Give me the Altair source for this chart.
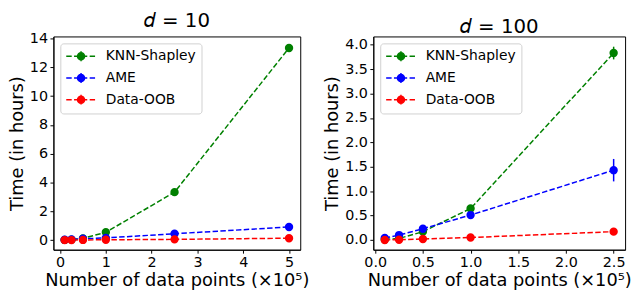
import altair as alt
import pandas as pd

methods = ["KNN-Shapley", "AME", "Data-OOB"]
colors = ["#008000", "#0000ff", "#ff0000"]

# d = 10 panel
x10 = [0.1, 0.25, 0.5, 1.0, 2.5, 5.0]
knn10 = [0.01, 0.03, 0.12, 0.54, 3.33, 13.35]
knn10_err = [0.005, 0.01, 0.02, 0.04, 0.08, 0.1]
ame10 = [0.02, 0.05, 0.09, 0.15, 0.44, 0.91]
ame10_err = [0.005, 0.01, 0.01, 0.02, 0.05, 0.15]
oob10 = [0.0, 0.0, 0.01, 0.02, 0.05, 0.13]
oob10_err = [0.002, 0.002, 0.003, 0.005, 0.01, 0.02]

# d = 100 panel
x100 = [0.1, 0.25, 0.5, 1.0, 2.5]
knn100 = [0.01, 0.03, 0.17, 0.645, 3.83]
knn100_err = [0.005, 0.01, 0.02, 0.04, 0.13]
ame100 = [0.04, 0.1, 0.23, 0.51, 1.43]
ame100_err = [0.01, 0.02, 0.03, 0.03, 0.23]
oob100 = [0.0, 0.005, 0.02, 0.05, 0.17]
oob100_err = [0.002, 0.003, 0.005, 0.01, 0.02]

xticks10 = [0, 1, 2, 3, 4, 5]
yticks10 = [0, 2, 4, 6, 8, 10, 12, 14]
xticks100 = [0.0, 0.5, 1.0, 1.5, 2.0, 2.5]
yticks100 = [0.0, 0.5, 1.0, 1.5, 2.0, 2.5, 3.0, 3.5, 4.0]

FONT = "DejaVu Sans"
# legend glyph: dashed line, marker and error bar (units of 7px)
SYMBOL = ("M-1,0H-0.21M0.13,0H0.91M1.26,0H2.04M2.39,0H3.17"
          "M0.63,0A0.51,0.51,0,1,1,1.65,0A0.51,0.51,0,1,1,0.63,0Z"
          "M1.14,-0.72V0.72")


def frame(xs, series):
    rows = []
    for m, (ys, es) in zip(methods, series):
        for x, y, e in zip(xs, ys, es):
            rows.append({"x": x, "y": y, "lo": y - e, "hi": y + e, "method": m})
    return pd.DataFrame(rows)


def panel(df, title, xdom, ydom, xt, yt, xfmt, yfmt, w, h):
    sc = alt.Scale(domain=methods, range=colors)
    leg = alt.Legend(title=None, symbolType=SYMBOL)
    xenc = alt.X("x:Q", scale=alt.Scale(domain=xdom, nice=False, zero=False),
                 axis=alt.Axis(values=xt, tickCount=len(xt), format=xfmt,
                               labelOverlap=False,
                               title="Number of data points (×10⁵)"))
    yenc = alt.Y("y:Q", scale=alt.Scale(domain=ydom, nice=False, zero=False),
                 axis=alt.Axis(values=yt, tickCount=len(yt), format=yfmt,
                               labelOverlap=False, title="Time (in hours)"))
    base = alt.Chart(df)
    line = base.mark_line(strokeDash=[5.5, 2.4], strokeWidth=1.5, clip=True).encode(
        x=xenc, y=yenc,
        stroke=alt.Stroke("method:N", scale=sc, legend=leg),
        order=alt.Order("x:Q"),
    )
    err = base.mark_rule(strokeWidth=1.5).encode(
        x="x:Q", y="lo:Q", y2="hi:Q",
        stroke=alt.Stroke("method:N", scale=sc, legend=leg),
    )
    pts = base.mark_point(filled=True, size=42, opacity=1).encode(
        x="x:Q", y="y:Q",
        fill=alt.Fill("method:N", scale=sc, legend=leg),
        stroke=alt.Stroke("method:N", scale=sc, legend=leg),
    )
    return alt.layer(line, err, pts).properties(
        width=w, height=h,
        title=alt.TitleParams(title, fontSize=20, font=FONT, fontWeight="normal",
                              offset=0, anchor="middle", frame="group",
                              color="black"),
    )


left = panel(frame(x10, [(knn10, knn10_err), (ame10, ame10_err), (oob10, oob10_err)]),
             "𝑑 = 10", [-0.145, 5.245], [-0.67, 14.15], xticks10, yticks10, "d", "d", 250, 216)
right = panel(frame(x100, [(knn100, knn100_err), (ame100, ame100_err), (oob100, oob100_err)]),
              "𝑑 = 100", [-0.02, 2.62], [-0.2, 4.17], xticks100, yticks100, ".1f", ".1f", 255, 216)

chart = alt.hconcat(left, right, spacing=74, bounds="flush").resolve_scale(
    fill="independent", stroke="independent"
).resolve_legend(fill="independent", stroke="independent").properties(
    padding={"left": 0, "top": 0, "right": 0, "bottom": 0}
).configure_view(stroke="black", strokeWidth=1).configure_axis(
    labelFont=FONT, titleFont=FONT, labelFontSize=14.5, titleFontSize=18,
    labelColor="black", titleColor="black", titleFontWeight="normal",
    domainColor="black", tickColor="black", tickSize=3.5, tickWidth=1,
    grid=False, labelPadding=2.5, titlePadding=3,
).configure_legend(
    orient="top-left", offset=7, padding=5, labelFont=FONT, labelFontSize=14,
    labelColor="black", strokeColor="#d0d0d0", fillColor="white", cornerRadius=3,
    symbolSize=196, symbolStrokeWidth=1.5, labelOffset=25, rowPadding=4,
)

chart.save("out.html", embed_options={"renderer": "svg", "actions": False})
